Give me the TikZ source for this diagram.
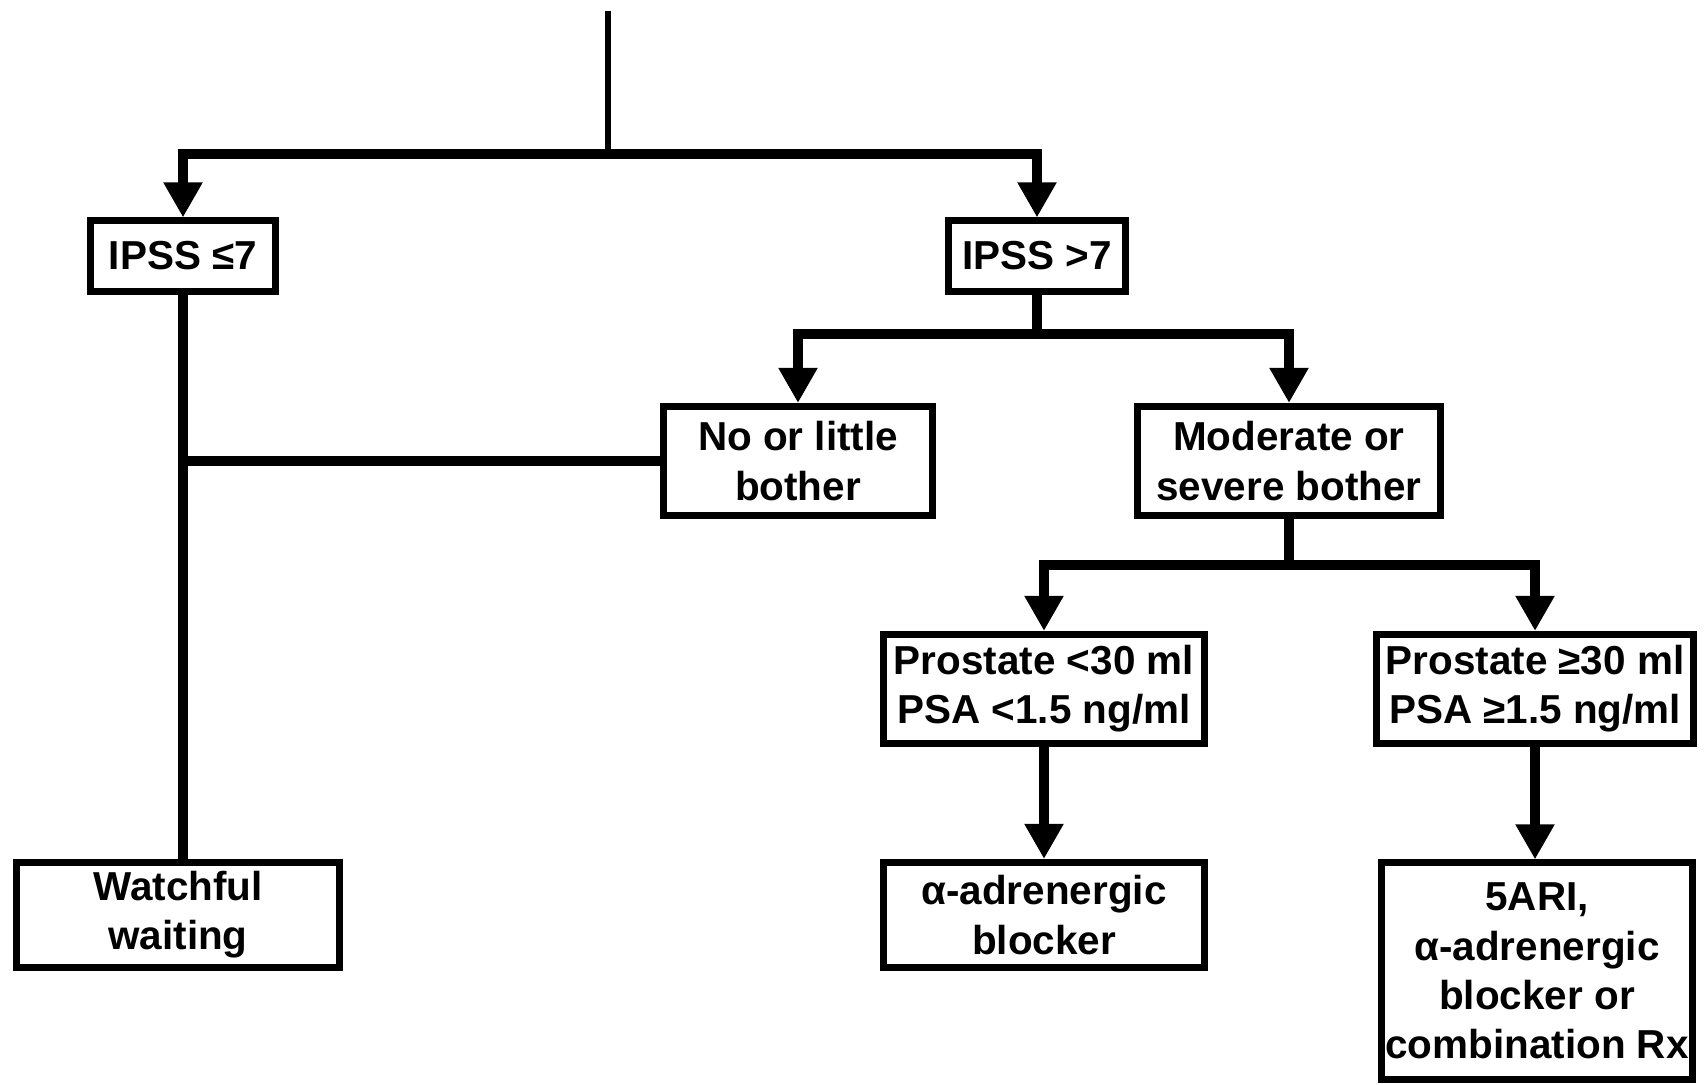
\documentclass[tikz,border=0pt]{standalone}
\usepackage{fontspec}
\setmainfont{Liberation Sans}
\usepackage{tikz}
\usetikzlibrary{arrows.meta}

\begin{document}
\begin{tikzpicture}[x=0.01cm,y=-0.01cm,
	box/.style={draw,line width=2pt,inner sep=0pt,align=center,
		font=\fontsize{11.5}{14}\selectfont\bfseries},
	conn/.style={line width=3.1pt},
	flow/.style={-{Triangle[width=10.5pt,length=10pt]}}]
\useasboundingbox (0,0) rectangle (1706,1085);

%nodes
\node[box,minimum width=1.85cm,minimum height=0.70cm] (ipsslow) at (183,256) {IPSS ≤7};
\node[box,minimum width=1.76cm,minimum height=0.70cm] (ipsshigh) at (1037,256) {IPSS >7};
\node[box,minimum width=2.69cm,minimum height=1.09cm] (nolittle) at (798,461) {No or little\\bother};
\node[box,minimum width=3.03cm,minimum height=1.09cm] (moderate) at (1289,461) {Moderate or\\severe bother};
\node[box,minimum width=3.21cm,minimum height=1.09cm] (prlow) at (1044,689) {Prostate <30 ml\\PSA <1.5 ng/ml};
\node[box,minimum width=3.17cm,minimum height=1.09cm] (prhigh) at (1535,689) {Prostate ≥30 ml\\PSA ≥1.5 ng/ml};
\node[box,minimum width=3.21cm,minimum height=1.05cm] (alpha) at (1044,915) {α-adrenergic\\blocker};
\node[box,minimum width=3.10cm,minimum height=2.16cm] (fiveari) at (1537,971) {5ARI,\\α-adrenergic\\blocker or\\combination Rx};
\node[box,minimum width=3.22cm,minimum height=1.05cm] (watch) at (178,915) {Watchful\\waiting};

%splits
\coordinate (top) at (608,11);
\coordinate (split1) at (608,154);
\coordinate (split2) at (1037,334);
\coordinate (split3) at (1289,565);

%edges
\draw[line width=1.7pt] (top) -- (split1);
\draw[conn] (ipsshigh) -- (split2);
\draw[conn] (moderate) -- (split3);
\foreach \a/\b in {split1/ipsslow,split1/ipsshigh,split2/nolittle,split2/moderate,split3/prlow,split3/prhigh}{
	\draw[conn,flow] (\a) -| (\b);
}
\draw[conn,flow] (prlow) -- (alpha);
\draw[conn,flow] (prhigh) -- (prhigh |- fiveari.north);

%watchful waiting
\draw[conn] (ipsslow) -- (ipsslow |- watch.north);
\draw[conn] (nolittle) -- (nolittle -| ipsslow);

\end{tikzpicture}
\end{document}
